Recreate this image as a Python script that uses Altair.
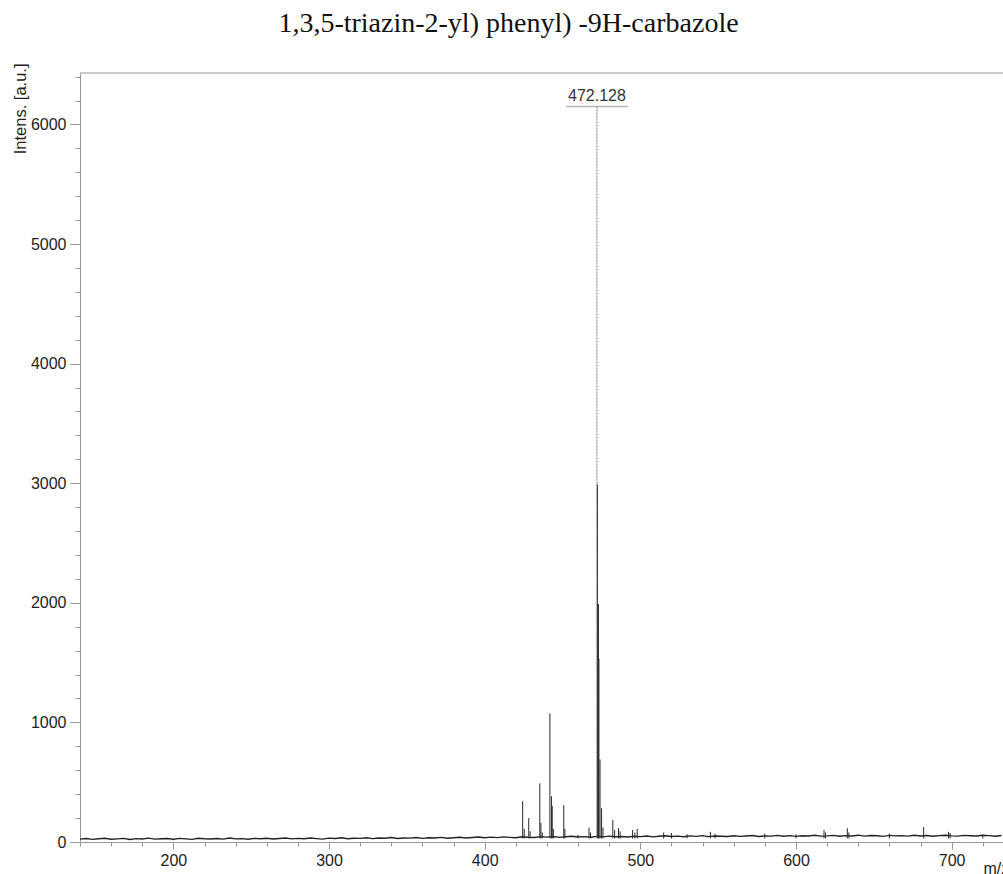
import altair as alt
import pandas as pd

title_text = "1,3,5-triazin-2-yl) phenyl) -9H-carbazole"

# noisy baseline of the spectrum (m/z grid every 4 units)
baseline_mz = list(range(140, 733, 4))
baseline_int = [
    24, 29, 22, 27, 31, 23, 26, 30, 21, 28, 25, 32, 24, 27, 29,
    23, 30, 26, 22, 31, 27, 25, 29, 24, 33, 26, 28, 23, 30, 27,
    31, 25, 29, 34, 26, 30, 27, 33, 28, 24, 32, 29, 35, 27, 31,
    30, 36, 28, 33, 31, 37, 29, 34, 32, 38, 30, 35, 33, 39, 31,
    36, 40, 34, 38, 42, 35, 41, 37, 43, 39, 36, 44, 40, 38, 45,
    41, 46, 39, 44, 48, 42, 45, 40, 47, 43, 49, 44, 46, 42, 48,
    45, 50, 43, 48, 52, 46, 49, 44, 51, 47, 53, 45, 50, 48, 46,
    52, 47, 50, 54, 46, 51, 49, 55, 48, 53, 47, 52, 50, 56, 49,
    51, 55, 48, 53, 50, 57, 49, 54, 52, 47, 55, 51, 53, 49, 56,
    50, 54, 48, 53, 57, 51, 49, 55, 52, 50, 56, 53, 48, 54,
]

# peaks (m/z, intensity)
peak_mz = [424.4, 425.4, 428.3, 429.2, 435.4, 436.1, 437.0, 441.9, 442.9, 443.4,
           444.1, 450.8, 451.5, 460.0, 467.0, 468.0, 472.4, 473.1, 473.4, 474.1,
           475.1, 476.0, 482.3, 483.5, 486.0, 487.0, 495.0, 496.5, 498.0, 515.0,
           520.0, 530.0, 545.0, 548.0, 580.0, 600.0, 618.0, 619.0, 633.0, 634.0,
           660.0, 682.0, 698.0, 699.0, 720.0]
peak_int = [342, 110, 200, 90, 490, 160, 80, 1075, 383, 300,
            110, 308, 110, 60, 120, 80, 2990, 1990, 1530, 690,
            283, 120, 183, 100, 117, 90, 100, 80, 110, 80,
            75, 65, 85, 70, 70, 65, 100, 80, 115, 80,
            70, 125, 85, 75, 60]

label_mz = [472.128]
label_int = [6150]
label_txt = ["472.128"]

W, H = 923, 769
FONT = "Liberation Sans"

base_df = pd.DataFrame({"mz": baseline_mz, "intensity": baseline_int})
peak_df = pd.DataFrame({"mz": peak_mz, "intensity": peak_int})
lab_df = pd.DataFrame({"mz": label_mz, "intensity": label_int, "txt": label_txt})

x_scale = alt.Scale(domain=[140, 733], nice=False, zero=False)
y_scale = alt.Scale(domain=[0, 6430], nice=False, zero=True)

x_axis = alt.Axis(
    values=list(range(140, 733, 20)),
    labelExpr="datum.value % 100 === 0 ? datum.label : ''",
    format="d",
    grid=False,
    domainColor="#999999",
    tickColor="#999999",
    tickSize={"condition": {"test": "datum.value % 100 === 0", "value": 7}, "value": 4},
    labelFont=FONT, labelFontSize=16, labelColor="#222222", labelPadding=3,
    labelFlush=False, labelOverlap=False,
    title="m/z", titleFont=FONT, titleFontSize=16, titleFontWeight="normal",
    titleColor="#222222", titleX=903, titleY=31, titleAlign="left",
    titleBaseline="alphabetic",
)
y_axis = alt.Axis(
    values=list(range(0, 6401, 200)),
    labelExpr="datum.value % 1000 === 0 ? datum.label : ''",
    format="d",
    grid=False,
    domainColor="#999999",
    tickColor="#999999",
    tickSize={"condition": {"test": "datum.value % 1000 === 0", "value": 10}, "value": 5},
    labelFont=FONT, labelFontSize=16, labelColor="#222222", labelPadding=4,
    labelOverlap=False, labelFlush=False,
    title="Intens. [a.u.]", titleFont=FONT, titleFontSize=16.5, titleFontWeight="normal",
    titleColor="#222222", titleX=-60, titleY=-10, titleAlign="right",
    titleBaseline="middle", titleAngle=270,
)

X = alt.X("mz:Q", scale=x_scale, axis=x_axis, title="m/z")
Y = alt.Y("intensity:Q", scale=y_scale, axis=y_axis, title="Intens. [a.u.]")

baseline = alt.Chart(base_df).mark_line(color="#222222", strokeWidth=1.4).encode(x=X, y=Y)

label_rule = alt.Chart(lab_df).mark_rule(color="#777777", strokeWidth=1, strokeDash=[2, 1]).encode(
    x=X, y=Y, y2=alt.datum(30),
)

peaks = alt.Chart(peak_df).mark_rule(color="#2a2a2a", strokeWidth=1).encode(
    x=X, y=Y, y2=alt.datum(30),
)

underline = alt.Chart(lab_df).mark_tick(orient="horizontal", size=62, thickness=1.5, color="#999999").encode(
    x=X, y=Y,
)

label_text = alt.Chart(lab_df).mark_text(
    dy=-5, baseline="alphabetic", align="center", font=FONT, fontSize=16, color="#333333"
).encode(x=X, y=Y, text="txt:N")

top_frame = alt.Chart(lab_df).mark_rule(color="#999999", strokeWidth=1).encode(
    x=alt.value(0), x2=alt.value(W), y=alt.value(0)
)

chart = alt.layer(baseline, label_rule, peaks, underline, label_text, top_frame).properties(
    width=W,
    height=H,
    padding={"left": 80, "top": 73, "right": 0, "bottom": 32},
    autosize=alt.AutoSizeParams(type="none"),
    title=alt.TitleParams(
        text=title_text, font="Liberation Serif", fontSize=28, fontWeight="normal",
        color="#111111", anchor="middle", dx=-33, offset=3, baseline="alphabetic",
    ),
    background="white",
).configure_view(stroke=None)

chart.save("out.html", embed_options={"renderer": "svg", "actions": False})
